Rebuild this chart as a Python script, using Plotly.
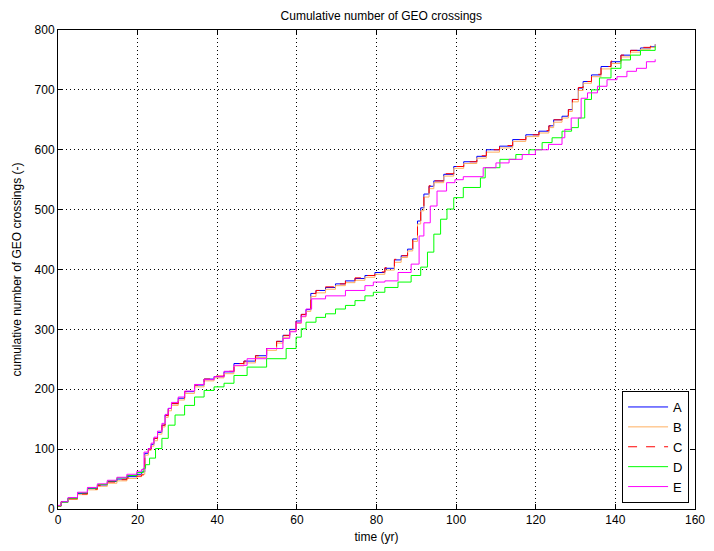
import plotly.graph_objects as go

# ---- data ----
t_abc = [0, 0.8, 2.5, 4.9, 7.4, 9.9, 12.4, 14.8, 17.3, 19.8,
         21.0, 21.8, 22.7, 23.4, 24.1, 25.0, 26.1, 26.9, 27.7, 28.5,
         30.2, 31.8, 34.3, 36.7, 39.2, 41.7, 44.2, 46.7, 49.6, 52.4,
         54.9, 56.5, 58.2, 59.8, 61.1, 62.3, 63.5, 64.8, 67.2, 69.7,
         72.2, 74.6, 77.1, 79.6, 82.1, 84.5, 86.2, 87.8, 89.1, 90.3,
         91.1, 91.9, 93.2, 94.4, 96.9, 99.4, 101.9, 105.2, 107.6, 110.9,
         114.2, 117.5, 120.8, 123.3, 124.5, 126.6, 128.2, 129.2, 130.7, 131.9,
         134.0, 136.4, 138.9, 141.4, 143.8, 146.3, 148.8, 150.0]
y_A = [5, 12, 18, 26, 34, 40, 46, 50, 54, 58,
       62, 93, 101, 108, 118, 128, 140, 157, 168, 176,
       185, 196, 207, 217, 221, 229, 243, 247, 256, 268,
       280, 290, 300, 314, 325, 333, 360, 365, 370, 376,
       381, 385, 390, 395, 402, 416, 423, 434, 451, 481,
       503, 526, 539, 548, 559, 572, 580, 589, 600, 606,
       617, 625, 631, 640, 650, 656, 667, 684, 703, 714,
       725, 739, 747, 758, 766, 770, 772, 776]
y_B = [5, 11, 16, 24, 32, 38, 43, 47, 51, 54,
       58, 90, 98, 105, 114, 125, 137, 153, 164, 173,
       182, 193, 204, 214, 219, 226, 239, 244, 253, 265,
       277, 287, 297, 310, 321, 330, 355, 361, 367, 373,
       378, 382, 387, 392, 399, 412, 420, 431, 447, 476,
       498, 521, 535, 545, 556, 569, 577, 586, 596, 603,
       614, 622, 628, 637, 646, 653, 664, 680, 699, 711,
       722, 735, 744, 755, 763, 768, 771, 776]
y_C = [5, 12, 17, 25, 33, 39, 45, 49, 52, 55,
       57, 93, 100, 108, 118, 128, 140, 156, 168, 176,
       185, 196, 207, 217, 222, 230, 243, 247, 256, 268,
       280, 290, 300, 314, 325, 333, 360, 365, 371, 376,
       381, 386, 390, 396, 403, 417, 423, 434, 451, 481,
       503, 526, 540, 548, 560, 572, 580, 590, 600, 607,
       617, 625, 632, 640, 650, 657, 667, 684, 704, 714,
       726, 739, 748, 758, 766, 771, 773, 777]

t_D = [0, 0.8, 2.5, 4.9, 7.4, 9.9, 12.4, 14.8, 17.3, 19.8,
       21.4, 22.0, 23.0, 24.5, 26.1, 27.7, 29.4, 31.8, 34.3, 36.7,
       39.2, 41.7, 44.2, 47.5, 52.4, 57.3, 59.8, 61.1, 62.3, 64.8,
       67.2, 69.7, 72.2, 74.6, 77.1, 79.2, 82.1, 85.4, 88.7, 91.1,
       92.8, 94.4, 96.1, 97.7, 99.4, 101.8, 106.1, 107.3, 111.0, 115.0,
       118.3, 121.6, 124.1, 126.6, 129.0, 130.7, 132.3, 134.0, 136.0, 138.9,
       141.4, 143.8, 146.3, 150.0]
y_D = [5, 11, 18, 27, 35, 41, 47, 52, 56, 61,
       68, 74, 85, 101, 118, 140, 157, 173, 187, 198,
       204, 210, 223, 237, 251, 268, 287, 301, 312, 320,
       326, 334, 340, 348, 356, 362, 370, 379, 390, 404,
       429, 459, 484, 501, 520, 537, 553, 570, 584, 592,
       600, 612, 620, 631, 637, 653, 684, 700, 720, 736,
       750, 758, 766, 773]

t_E = [0, 0.8, 2.5, 4.9, 7.4, 9.9, 12.4, 14.8, 17.3, 19.8,
       21.0, 21.6, 22.7, 23.4, 24.1, 25.0, 26.1, 26.9, 27.7, 28.5,
       30.2, 31.8, 34.3, 36.7, 39.2, 41.7, 44.2, 47.5, 52.4, 56.5,
       58.2, 59.8, 61.1, 62.3, 63.7, 67.2, 72.2, 77.1, 79.2, 82.1,
       85.4, 88.7, 90.7, 91.9, 93.5, 95.2, 97.6, 99.7, 101.8, 106.8,
       110.0, 113.3, 116.6, 119.9, 123.2, 126.6, 127.3, 128.9, 131.4, 133.0,
       135.5, 137.9, 140.4, 142.9, 145.3, 147.8, 150.0]
y_E = [6, 12, 19, 28, 36, 42, 48, 53, 58, 63,
       66, 95, 101, 110, 120, 130, 143, 158, 168, 178,
       187, 197, 208, 216, 221, 230, 240, 251, 268, 285,
       296, 311, 322, 334, 351, 356, 365, 373, 379, 381,
       395, 409, 456, 478, 506, 531, 545, 550, 555, 570,
       578, 584, 592, 600, 609, 620, 634, 653, 686, 695,
       706, 717, 722, 731, 736, 747, 751]

series = [
    ("A", t_abc, y_A, "#0000ff", "solid"),
    ("B", t_abc, y_B, "#ffb060", "solid"),
    ("C", t_abc, y_C, "#ff0000", "dash"),
    ("D", t_D, y_D, "#00ff00", "solid"),
    ("E", t_E, y_E, "#ff00ff", "solid"),
]

x_ticks = [0, 20, 40, 60, 80, 100, 120, 140, 160]
y_ticks = [0, 100, 200, 300, 400, 500, 600, 700, 800]

fig = go.Figure()
for name, tx, ty, col, dash in series:
    fig.add_trace(go.Scatter(x=tx, y=ty, name=name, mode="lines",
                             line=dict(color=col, width=1, dash=dash, shape="hv")))

FONT = "Liberation Sans, Arial, sans-serif"
axis_common = dict(
    showline=True, linecolor="black", linewidth=1, mirror="allticks",
    ticks="inside", ticklen=5, tickcolor="black",
    showgrid=True, gridcolor="black", gridwidth=1, griddash="1px,3px",
    zeroline=False, tickfont=dict(family=FONT, size=12, color="black"),
    ticklabeloverflow="allow",
)
fig.update_xaxes(range=[0, 160], tickvals=x_ticks,
                 title=dict(text="time (yr)", font=dict(family=FONT, size=12, color="black"), standoff=6),
                 **axis_common)
fig.update_yaxes(range=[0, 800], tickvals=y_ticks,
                 title=dict(text="cumulative number of GEO crossings (-)", font=dict(family=FONT, size=12, color="black"), standoff=10),
                 **axis_common)

fig.update_layout(
    width=714, height=551,
    margin=dict(l=58, r=9, t=30, b=40),
    paper_bgcolor="white", plot_bgcolor="white",
    font=dict(family=FONT, size=12, color="black"),
    title=dict(text="Cumulative number of GEO crossings", x=0.534, xanchor="center",
               y=0.972, yanchor="middle", font=dict(family=FONT, size=12, color="black")),
    legend=dict(x=0.9907, y=0.0125, xanchor="right", yanchor="bottom",
                bgcolor="white", bordercolor="black", borderwidth=1,
                font=dict(family=FONT, size=13, color="black"),
                tracegroupgap=0, itemwidth=40),
    showlegend=True,
)

fig.write_html("out.html")
